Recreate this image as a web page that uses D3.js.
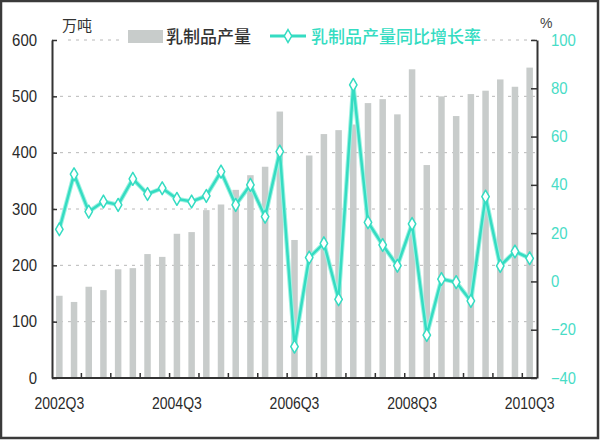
<!DOCTYPE html>
<html><head><meta charset="utf-8">
<script src="https://cdn.jsdelivr.net/npm/d3@7"></script>
<style>
html,body{margin:0;padding:0;background:#fff;}
svg{display:block;}
.num{font-family:"Liberation Sans","DejaVu Sans",sans-serif;}
.cjk{font-family:"Noto Sans CJK SC","Noto Sans",sans-serif;}
</style></head>
<body>
<svg id="c" width="600" height="440"></svg>
<script>
const quarters = ["2002Q3","2002Q4","2003Q1","2003Q2","2003Q3","2003Q4","2004Q1","2004Q2","2004Q3","2004Q4","2005Q1","2005Q2","2005Q3","2005Q4","2006Q1","2006Q2","2006Q3","2006Q4","2007Q1","2007Q2","2007Q3","2007Q4","2008Q1","2008Q2","2008Q3","2008Q4","2009Q1","2009Q2","2009Q3","2009Q4","2010Q1","2010Q2","2010Q3"];
const output = [146,135,162,156,193,195,220,215,256,259,298,308,334,360,375,473,245,395,433,440,450,488,495,468,548,378,500,465,504,510,530,517,551];
const growth = [21.6,44.4,28.9,33.1,31.7,42.5,36.2,38.6,34.2,33.1,35.4,45.5,31.7,40.0,26.8,53.8,-27.0,9.9,15.8,-7.4,81.4,24.5,15.1,6.5,23.8,-22.2,1.0,-0.3,-8.1,35.1,6.4,12.4,9.6];
const xLabels = ["2002Q3","2004Q3","2006Q3","2008Q3","2010Q3"];
const leftTicks = [0,100,200,300,400,500,600];
const rightTicks = [-40,-20,0,20,40,60,80,100];
const seriesNames = ["乳制品产量","乳制品产量同比增长率"];
const unitLeft = "万吨", unitRight = "%";

const svg = d3.select("#c");
const L = 52, R = 537, T = 40, B = 378;
const teal = "#35dcc2", barCol = "#c8cccb", axisCol = "#333";
const charW = 8.3;

const x = d3.scaleBand().domain(quarters).range([L, R]).paddingInner(0).paddingOuter(0);
const yL = d3.scaleLinear().domain([0, 600]).range([B, T]);
const yR = d3.scaleLinear().domain([-40, 100]).range([B, T]);

// border
svg.append("rect").attr("x",1).attr("y",1).attr("width",597).attr("height",437)
  .attr("fill","#fff").attr("stroke","#3a3a3a").attr("stroke-width",2.5);

// gridlines
svg.append("g").selectAll("line").data(leftTicks.filter(d => d > 0)).join("line")
  .attr("x1", L).attr("x2", R).attr("y1", d => yL(d)).attr("y2", d => yL(d))
  .attr("stroke", "#b8b8b8").attr("stroke-width", 1).attr("stroke-dasharray", "3,5");

// bars
const bw = 6.5;
svg.append("g").selectAll("rect").data(output).join("rect")
  .attr("x", (d,i) => x(quarters[i]) + x.bandwidth()/2 - bw/2)
  .attr("width", bw)
  .attr("y", d => yL(d)).attr("height", d => yL(0) - yL(d))
  .attr("fill", barCol);

// legend background (covers gridline)
svg.append("rect").attr("x",124).attr("y",22).attr("width",358).attr("height",26).attr("fill","#fff");
svg.append("rect").attr("x",L+1).attr("y",34).attr("width",14).attr("height",10).attr("fill","#fff");

// line
const line = d3.line().x((d,i) => x(quarters[i]) + x.bandwidth()/2).y(d => yR(d));
svg.append("path").datum(growth).attr("d", line).attr("fill","none")
  .attr("stroke", "#9ef2e2").attr("stroke-width", 4.5).attr("stroke-linejoin","round");
svg.append("path").datum(growth).attr("d", line).attr("fill","none")
  .attr("stroke", teal).attr("stroke-width", 2.5).attr("stroke-linejoin","round");
const sym = d3.symbol().type(d3.symbolDiamond).size(48);
svg.append("g").selectAll("path").data(growth).join("path")
  .attr("transform", (d,i) => `translate(${x(quarters[i]) + x.bandwidth()/2},${yR(d)})`)
  .attr("d", sym).attr("fill","#fff").attr("stroke", teal).attr("stroke-width",1.5).attr("stroke-linejoin","round");

function narrow(sel) {
  sel.attr("textLength", function() { return this.textContent.length * charW; })
     .attr("lengthAdjust", "spacingAndGlyphs");
}

// left axis
const gl = svg.append("g").attr("transform", `translate(${L},0)`)
  .call(d3.axisLeft(yL).tickValues(leftTicks).tickSizeInner(-5).tickSizeOuter(0).tickPadding(15));
gl.select(".domain").attr("stroke", axisCol).attr("stroke-width", 2);
gl.selectAll(".tick line").attr("stroke", axisCol).attr("stroke-width", 1.5);
gl.selectAll("text").attr("class","num").attr("font-size",16).attr("fill","#2a2a2a").call(narrow);

// right axis
const gr = svg.append("g").attr("transform", `translate(${R},0)`)
  .call(d3.axisRight(yR).tickValues(rightTicks).tickSizeInner(-6).tickSizeOuter(0).tickPadding(14));
gr.select(".domain").attr("stroke", axisCol).attr("stroke-width", 2);
gr.selectAll(".tick line").attr("stroke", axisCol).attr("stroke-width", 1.5);
gr.selectAll("text").attr("class","num").attr("font-size",16).attr("fill","#48dcc6").call(narrow);

// bottom axis
const gb = svg.append("g").attr("transform", `translate(0,${B})`);
gb.append("line").attr("x1", L).attr("x2", R).attr("stroke", axisCol).attr("stroke-width", 2);
const tickIdx = quarters.map((q,i) => i).filter(i => i % 2 === 0 && i > 0);
gb.selectAll("line.t").data(tickIdx).join("line").attr("class","t")
  .attr("x1", i => x(quarters[i])).attr("x2", i => x(quarters[i]))
  .attr("y1", 0).attr("y2", -5).attr("stroke", axisCol).attr("stroke-width", 1.5);
gb.selectAll("text").data(xLabels).join("text").attr("class","num")
  .attr("x", d => x(d) + x.bandwidth()/2).attr("y", 31)
  .attr("text-anchor","middle").attr("font-size",16).attr("fill","#2a2a2a").text(d => d).call(narrow);

// units
svg.append("text").attr("class","cjk").attr("x",62).attr("y",31).attr("font-size",15)
  .attr("fill","#333").text(unitLeft);
svg.append("text").attr("class","num").attr("x",540).attr("y",28).attr("font-size",14)
  .attr("fill","#444").text(unitRight);

// legend
svg.append("rect").attr("x",128).attr("y",30).attr("width",35).attr("height",13).attr("fill",barCol);
svg.append("text").attr("class","cjk").attr("x",166).attr("y",43).attr("font-size",17)
  .attr("font-weight",500).attr("fill","#333").text(seriesNames[0]);
svg.append("line").attr("x1",270).attr("x2",306).attr("y1",36).attr("y2",36)
  .attr("stroke",teal).attr("stroke-width",3);
svg.append("path").attr("transform","translate(288,36)").attr("d", sym)
  .attr("fill","#fff").attr("stroke",teal).attr("stroke-width",1.5);
svg.append("text").attr("class","cjk").attr("x",311).attr("y",43).attr("font-size",17)
  .attr("font-weight",500).attr("fill",teal).text(seriesNames[1]);
</script>
</body></html>
